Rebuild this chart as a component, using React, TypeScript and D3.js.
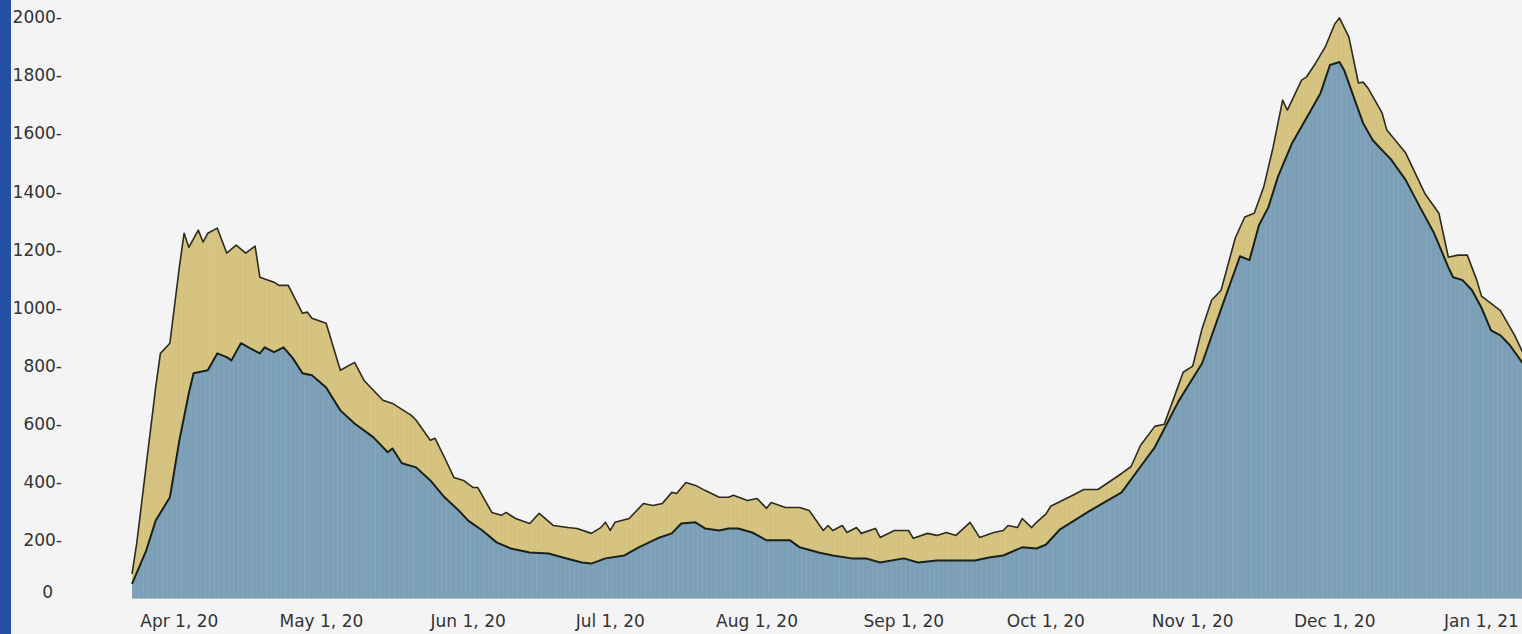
import { useMemo } from 'react'
import * as d3 from 'd3'

// total (gold top line)
const totalDates = [
  '2020-03-22', '2020-03-23', '2020-03-27', '2020-03-28', '2020-03-30', '2020-04-01', '2020-04-02', '2020-04-03',
  '2020-04-05', '2020-04-06', '2020-04-07', '2020-04-09', '2020-04-11', '2020-04-13', '2020-04-15', '2020-04-17',
  '2020-04-18', '2020-04-21', '2020-04-22', '2020-04-24', '2020-04-27', '2020-04-28', '2020-04-29', '2020-05-02',
  '2020-05-05', '2020-05-08', '2020-05-10', '2020-05-14', '2020-05-16', '2020-05-20', '2020-05-21', '2020-05-24',
  '2020-05-25', '2020-05-27', '2020-05-29', '2020-05-31', '2020-06-02', '2020-06-03', '2020-06-06', '2020-06-08',
  '2020-06-09', '2020-06-11', '2020-06-14', '2020-06-16', '2020-06-19', '2020-06-22', '2020-06-24', '2020-06-27',
  '2020-06-29', '2020-06-30', '2020-07-01', '2020-07-02', '2020-07-05', '2020-07-08', '2020-07-10', '2020-07-12',
  '2020-07-14', '2020-07-15', '2020-07-17', '2020-07-19', '2020-07-21', '2020-07-24', '2020-07-26', '2020-07-27',
  '2020-07-30', '2020-08-01', '2020-08-03', '2020-08-04', '2020-08-07', '2020-08-10', '2020-08-12', '2020-08-15',
  '2020-08-16', '2020-08-17', '2020-08-19', '2020-08-20', '2020-08-22', '2020-08-23', '2020-08-26', '2020-08-27',
  '2020-08-30', '2020-09-02', '2020-09-03', '2020-09-06', '2020-09-08', '2020-09-10', '2020-09-12', '2020-09-15',
  '2020-09-17', '2020-09-20', '2020-09-22', '2020-09-23', '2020-09-25', '2020-09-26', '2020-09-28', '2020-09-29',
  '2020-10-01', '2020-10-02', '2020-10-07', '2020-10-09', '2020-10-12', '2020-10-17', '2020-10-19', '2020-10-21',
  '2020-10-24', '2020-10-26', '2020-10-29', '2020-10-30', '2020-11-01', '2020-11-03', '2020-11-05', '2020-11-07',
  '2020-11-10', '2020-11-12', '2020-11-14', '2020-11-16', '2020-11-18', '2020-11-20', '2020-11-21', '2020-11-24',
  '2020-11-25', '2020-11-27', '2020-11-29', '2020-12-01', '2020-12-02', '2020-12-04', '2020-12-06', '2020-12-07',
  '2020-12-08', '2020-12-11', '2020-12-12', '2020-12-16', '2020-12-20', '2020-12-23', '2020-12-25', '2020-12-27',
  '2020-12-29', '2020-12-31', '2021-01-01', '2021-01-03', '2021-01-05', '2021-01-08', '2021-01-10'
]
const totalValues = [
  85, 190, 726, 843, 878, 1140, 1256, 1208,
  1267, 1226, 1256, 1274, 1188, 1215, 1188, 1212,
  1105, 1088, 1077, 1077, 981, 985, 964, 947,
  785, 812, 750, 682, 671, 630, 613, 544,
  551, 485, 416, 406, 382, 382, 296, 286,
  296, 275, 258, 293, 251, 244, 241, 224,
  244, 262, 234, 262, 275, 327, 320, 327,
  365, 361, 399, 389, 372, 348, 348, 355,
  337, 344, 310, 330, 313, 313, 303, 234,
  251, 234, 251, 227, 244, 224, 241, 210,
  234, 234, 207, 224, 217, 227, 217, 262,
  210, 227, 234, 251, 244, 275, 244, 262,
  290, 317, 358, 375, 375, 430, 454, 527,
  592, 599, 733, 778, 799, 929, 1026, 1060,
  1240, 1312, 1325, 1415, 1553, 1714, 1680, 1783,
  1793, 1842, 1897, 1976, 1997, 1931, 1773, 1776,
  1756, 1670, 1611, 1532, 1394, 1325, 1174, 1181,
  1181, 1095, 1040, 1015, 990, 905, 836
]

// hospitalised (blue lower line)
const hospDates = [
  '2020-03-22', '2020-03-25', '2020-03-27', '2020-03-30', '2020-04-01', '2020-04-03', '2020-04-04', '2020-04-07',
  '2020-04-09', '2020-04-11', '2020-04-12', '2020-04-14', '2020-04-16', '2020-04-18', '2020-04-19', '2020-04-21',
  '2020-04-23', '2020-04-25', '2020-04-27', '2020-04-29', '2020-05-02', '2020-05-05', '2020-05-08', '2020-05-12',
  '2020-05-15', '2020-05-16', '2020-05-18', '2020-05-21', '2020-05-24', '2020-05-27', '2020-05-30', '2020-06-01',
  '2020-06-04', '2020-06-07', '2020-06-10', '2020-06-14', '2020-06-18', '2020-06-21', '2020-06-25', '2020-06-27',
  '2020-06-30', '2020-07-04', '2020-07-07', '2020-07-11', '2020-07-14', '2020-07-16', '2020-07-19', '2020-07-21',
  '2020-07-24', '2020-07-26', '2020-07-28', '2020-07-31', '2020-08-03', '2020-08-08', '2020-08-10', '2020-08-14',
  '2020-08-17', '2020-08-21', '2020-08-24', '2020-08-27', '2020-09-01', '2020-09-04', '2020-09-08', '2020-09-11',
  '2020-09-16', '2020-09-19', '2020-09-22', '2020-09-26', '2020-09-29', '2020-10-01', '2020-10-04', '2020-10-10',
  '2020-10-17', '2020-10-21', '2020-10-24', '2020-10-29', '2020-11-03', '2020-11-07', '2020-11-11', '2020-11-13',
  '2020-11-15', '2020-11-17', '2020-11-19', '2020-11-22', '2020-11-26', '2020-11-28', '2020-11-30', '2020-12-02',
  '2020-12-03', '2020-12-06', '2020-12-07', '2020-12-09', '2020-12-11', '2020-12-13', '2020-12-16', '2020-12-19',
  '2020-12-22', '2020-12-25', '2020-12-26', '2020-12-28', '2020-12-30', '2021-01-01', '2021-01-03', '2021-01-05',
  '2021-01-07', '2021-01-10'
]
const hospValues = [
  50, 165, 268, 348, 544, 706, 775, 785,
  843, 830, 819, 878, 860, 843, 864, 847,
  864, 826, 775, 768, 726, 647, 602, 554,
  503, 516, 465, 451, 406, 348, 303, 268,
  234, 193, 172, 158, 155, 141, 124, 120,
  138, 148, 176, 207, 224, 258, 262, 241,
  234, 241, 241, 227, 200, 200, 176, 158,
  148, 138, 138, 124, 138, 124, 131, 131,
  131, 141, 148, 176, 172, 185, 238, 299,
  365, 454, 520, 678, 809, 995, 1177, 1164,
  1284, 1346, 1450, 1566, 1680, 1738, 1835, 1845,
  1817, 1680, 1635, 1577, 1542, 1508, 1439, 1346,
  1256, 1139, 1105, 1095, 1060, 1000, 922, 905,
  871, 802
]

const yTicks = [0, 200, 400, 600, 800, 1000, 1200, 1400, 1600, 1800, 2000]
const xTicks = ['2020-04-01', '2020-05-01', '2020-06-01', '2020-07-01', '2020-08-01', '2020-09-01', '2020-10-01', '2020-11-01', '2020-12-01', '2021-01-01']

const W = 1522
const H = 634
const parse = d3.timeParse('%Y-%m-%d')
const fmt = d3.timeFormat('%b %-d, %y')

export default function App() {
  const total = useMemo(() => totalDates.map((d, i) => ({ date: parse(d), value: totalValues[i] })), [])
  const hosp = useMemo(() => hospDates.map((d, i) => ({ date: parse(d), value: hospValues[i] })), [])

  const x = d3.scaleTime()
    .domain([parse('2020-03-22'), parse('2021-01-01')])
    .range([132, 1481.5])
  const y = d3.scaleLinear().domain([0, 2000]).range([598.5, 17])

  const area = d3.area().x(d => x(d.date)).y0(y(0)).y1(d => y(d.value))
  const line = d3.line().x(d => x(d.date)).y(d => y(d.value))

  // one faint stripe per day, like the daily bars under the curves
  const days = d3.timeDay.range(parse('2020-03-22'), parse('2021-01-12'))

  const font = '"DejaVu Sans", Verdana, sans-serif'

  return (
    <div style={{ position: 'absolute', left: 0, top: 0, width: W, height: H, overflow: 'hidden', background: '#f4f4f4' }}>
      <svg width={W} height={H} style={{ display: 'block' }}>
        <defs>
          <clipPath id="areaClip">
            <path d={area(total)} />
          </clipPath>
        </defs>
        <rect x={0} y={0} width={W} height={H} fill="#f4f4f4" />

        <path d={area(total)} fill="#d5c27e" />
        <path d={area(hosp)} fill="#7b9fb6" />

        <g clipPath="url(#areaClip)">
          {days.map((d, i) => (
            <line key={i} x1={x(d) + 2} x2={x(d) + 2} y1={0} y2={H}
              stroke="#ffffff" strokeOpacity={0.09} strokeWidth={1} />
          ))}
        </g>

        <path d={line(total)} fill="none" stroke="#2b2b22" strokeWidth={1.6} strokeLinejoin="round" />
        <path d={line(hosp)} fill="none" stroke="#18211a" strokeWidth={2} strokeLinejoin="round" />

        {yTicks.map(t => (
          <text key={t} x={t === 0 ? 53 : 62} y={t === 0 ? y(t) - 7 : y(t)} dy="0.36em"
            textAnchor="end" fontFamily={font} fontSize={17} fill="#333">
            {t === 0 ? '0' : `${t}-`}
          </text>
        ))}

        {xTicks.map(t => (
          <text key={t} x={x(parse(t))} y={627} textAnchor="middle"
            fontFamily={font} fontSize={17} fill="#333">
            {fmt(parse(t))}
          </text>
        ))}

        <rect x={0} y={0} width={11} height={H} fill="#2450a3" />
      </svg>
    </div>
  )
}
